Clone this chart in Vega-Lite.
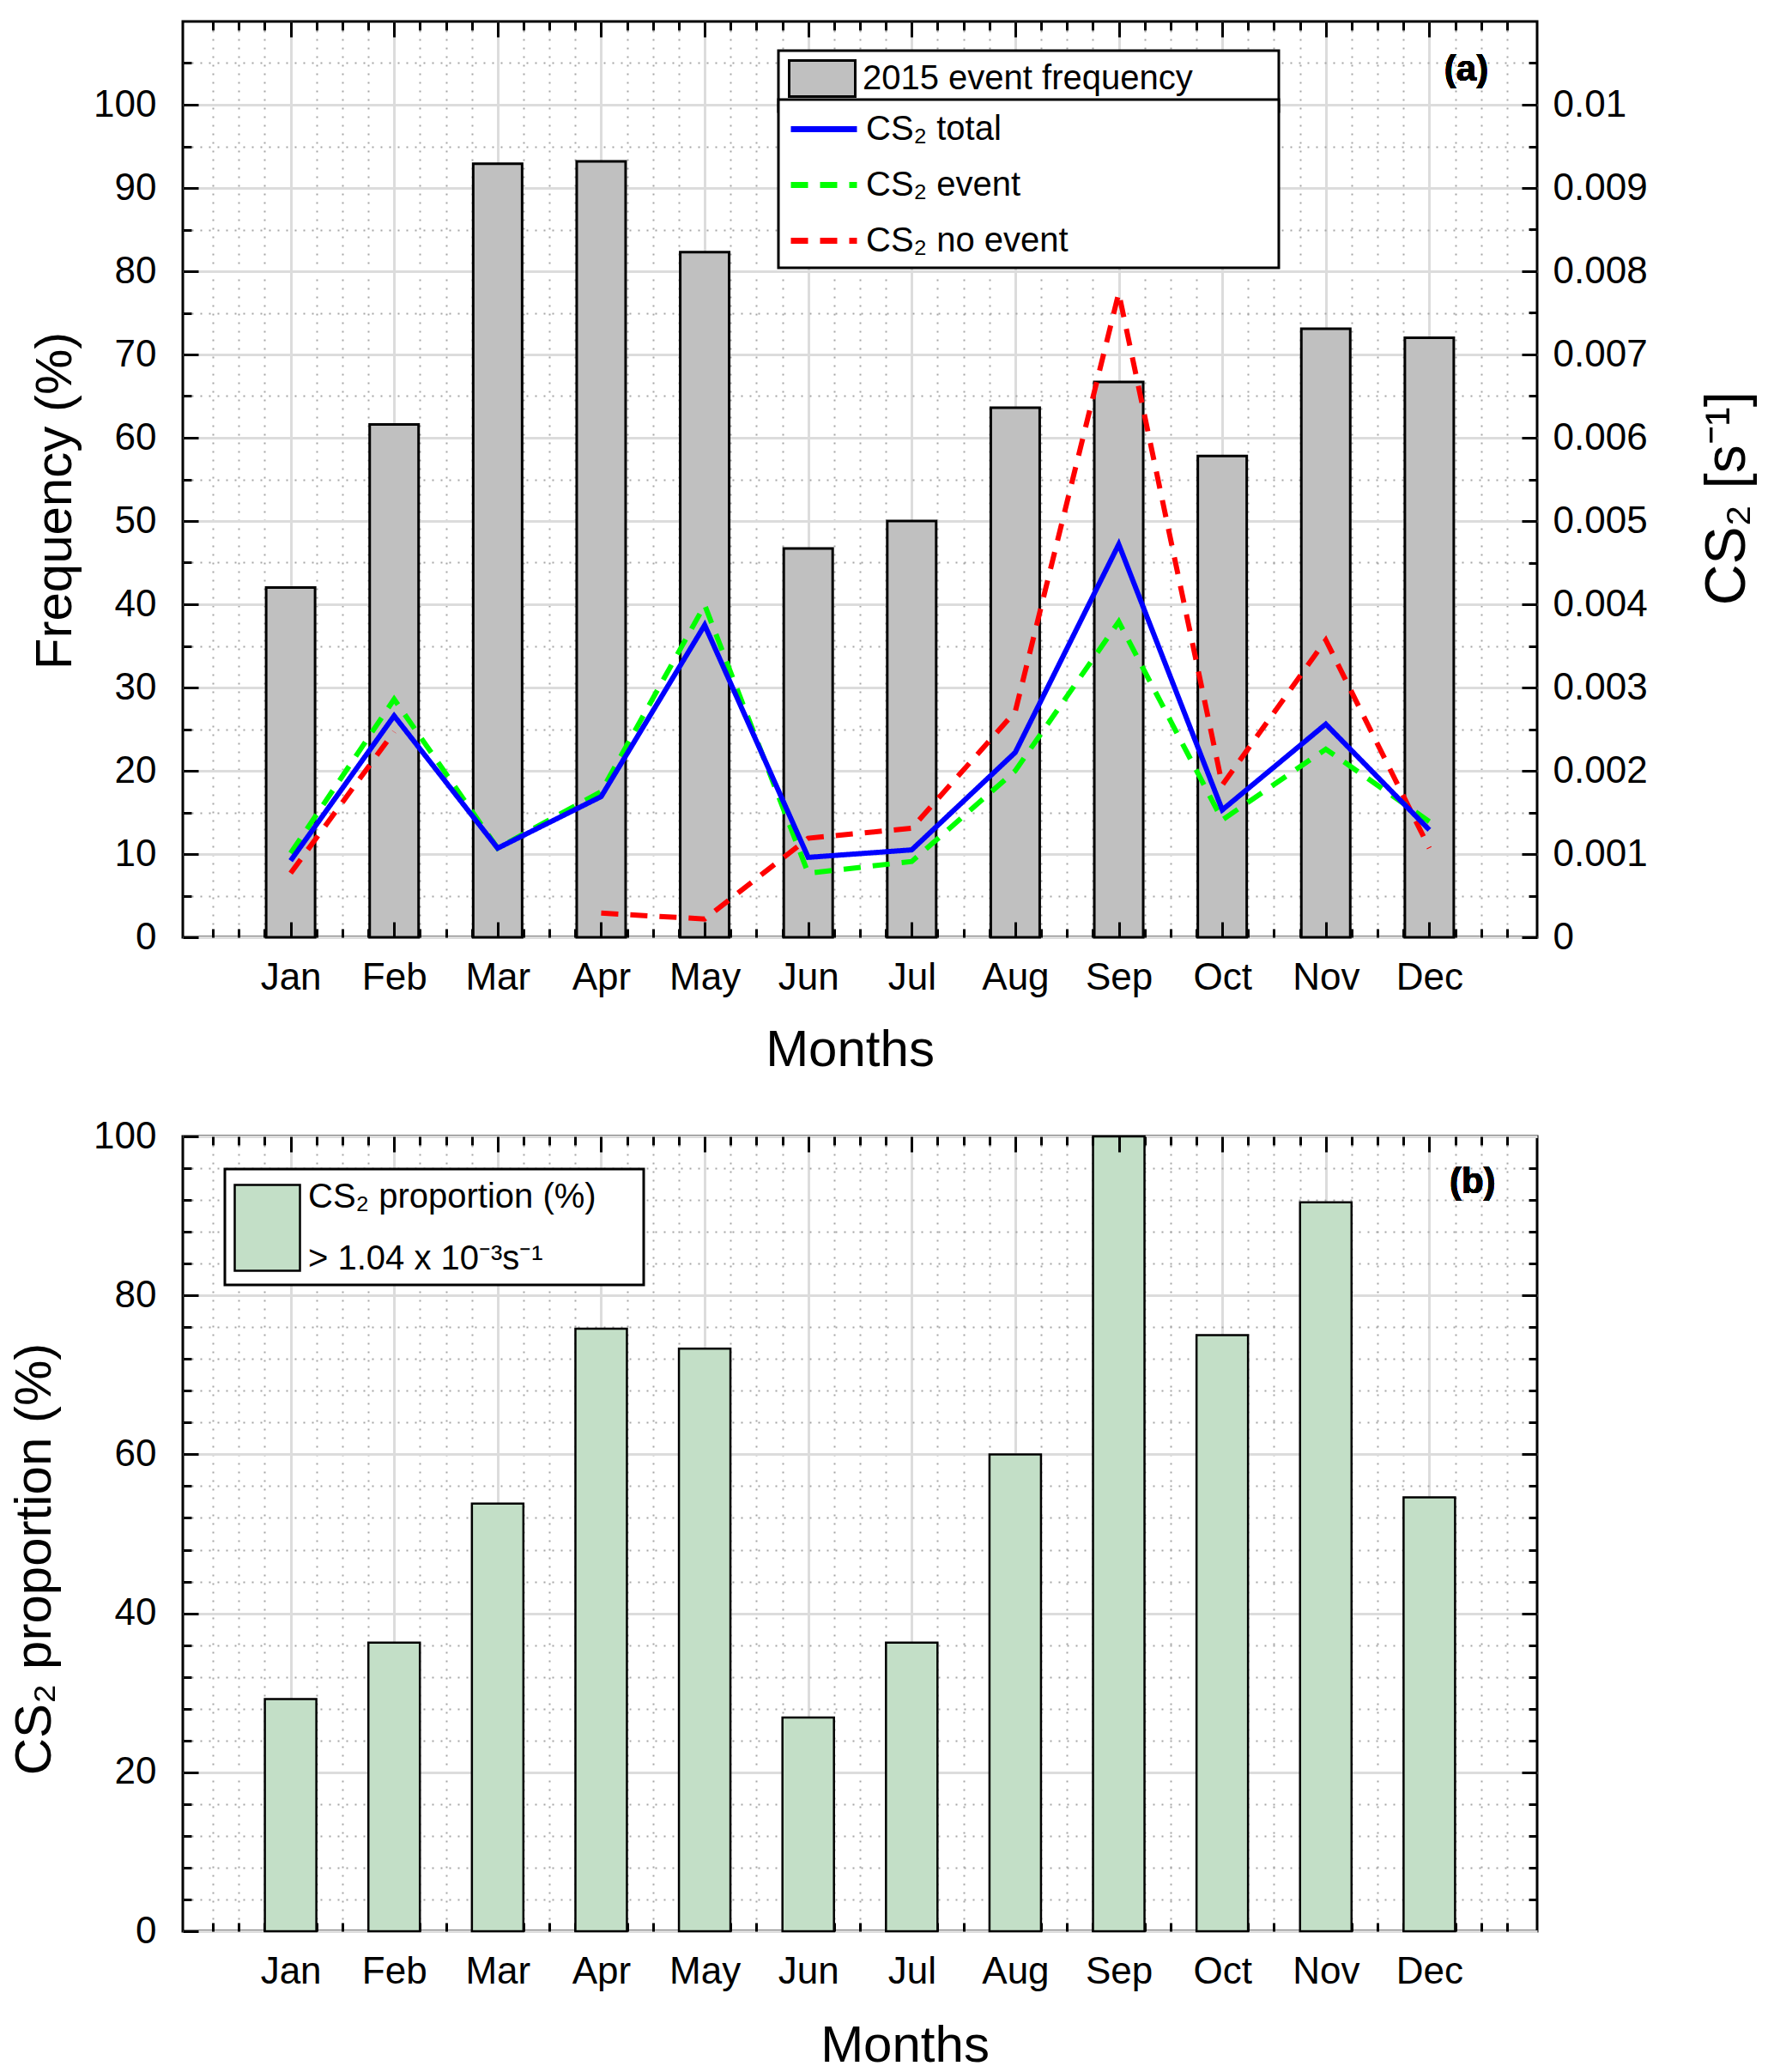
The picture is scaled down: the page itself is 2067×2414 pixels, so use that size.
{
  "$schema": "https://vega.github.io/schema/vega-lite/v6.json",
  "background": "white",
  "padding": {"left": 9, "top": 22, "right": 5, "bottom": 5},
  "spacing": 45,
  "datasets": {
    "top": [
      {"m": 1, "month": "Jan", "freq": 42.0, "total": 0.00092, "event": 0.00101, "noevent": 0.00077},
      {"m": 2, "month": "Feb", "freq": 61.6, "total": 0.00266, "event": 0.00286, "noevent": 0.00247},
      {"m": 3, "month": "Mar", "freq": 92.9, "total": 0.00107, "event": 0.00107, "noevent": null},
      {"m": 4, "month": "Apr", "freq": 93.2, "total": 0.00169, "event": 0.00175, "noevent": 0.00029},
      {"m": 5, "month": "May", "freq": 82.3, "total": 0.00375, "event": 0.00399, "noevent": 0.00022},
      {"m": 6, "month": "Jun", "freq": 46.7, "total": 0.00096, "event": 0.00077, "noevent": 0.00119},
      {"m": 7, "month": "Jul", "freq": 50.0, "total": 0.00105, "event": 0.00091, "noevent": 0.00131},
      {"m": 8, "month": "Aug", "freq": 63.6, "total": 0.00222, "event": 0.00200, "noevent": 0.00271},
      {"m": 9, "month": "Sep", "freq": 66.7, "total": 0.00472, "event": 0.00379, "noevent": 0.00774},
      {"m": 10, "month": "Oct", "freq": 57.8, "total": 0.00153, "event": 0.00141, "noevent": 0.00183},
      {"m": 11, "month": "Nov", "freq": 73.1, "total": 0.00256, "event": 0.00226, "noevent": 0.00357},
      {"m": 12, "month": "Dec", "freq": 72.0, "total": 0.00129, "event": 0.00139, "noevent": 0.00107}
    ],
    "bottom": [
      {"m": 1, "month": "Jan", "prop": 29.2},
      {"m": 2, "month": "Feb", "prop": 36.3},
      {"m": 3, "month": "Mar", "prop": 53.8},
      {"m": 4, "month": "Apr", "prop": 75.8},
      {"m": 5, "month": "May", "prop": 73.3},
      {"m": 6, "month": "Jun", "prop": 26.9},
      {"m": 7, "month": "Jul", "prop": 36.3},
      {"m": 8, "month": "Aug", "prop": 60.0},
      {"m": 9, "month": "Sep", "prop": 100},
      {"m": 10, "month": "Oct", "prop": 75.0},
      {"m": 11, "month": "Nov", "prop": 91.7},
      {"m": 12, "month": "Dec", "prop": 54.6}
    ]
  },
  "resolve": {
    "scale": {"color": "independent", "fill": "independent", "strokeDash": "independent"},
    "legend": {"color": "independent", "fill": "independent", "strokeDash": "independent"}
  },
  "vconcat": [
    {
      "width": 1578,
      "height": 1067,
      "data": {"name": "top"},
      "resolve": {"scale": {"y": "independent"}, "axis": {"x": "independent", "y": "independent"}},
      "layer": [
        {
          "mark": {"type": "bar", "orient": "vertical", "size": 57, "stroke": "black", "strokeWidth": 3},
          "encoding": {
            "x": {
              "field": "m", "type": "quantitative",
              "scale": {"domain": [0, 13], "nice": false, "zero": false},
              "axis": {
                "orient": "bottom",
                "values": [0.25,0.5,0.75,1,1.25,1.5,1.75,2,2.25,2.5,2.75,3,3.25,3.5,3.75,4,4.25,4.5,4.75,5,5.25,5.5,5.75,6,6.25,6.5,6.75,7,7.25,7.5,7.75,8,8.25,8.5,8.75,9,9.25,9.5,9.75,10,10.25,10.5,10.75,11,11.25,11.5,11.75,12,12.25,12.5,12.75],
                "grid": true, "ticks": false, "labels": true,
                "labelExpr": "datum.value % 1 === 0 ? ['','Jan','Feb','Mar','Apr','May','Jun','Jul','Aug','Sep','Oct','Nov','Dec'][datum.value] : ''",
                "labelPadding": 25,
                "title": "Months", "titlePadding": 33, "titleX": 777,
                "gridDash": {"condition": {"test": "datum.value % 1 !== 0", "value": [2, 8]}, "value": []},
                "gridColor": {"condition": {"test": "datum.value % 1 !== 0", "value": "#a6a6a6"}, "value": "#dcdcdc"},
                "gridWidth": {"condition": {"test": "datum.value % 1 !== 0", "value": 2}, "value": 3},
                "zindex": 0
              }
            },
            "y": {
              "field": "freq", "type": "quantitative",
              "scale": {"domain": [0, 110], "nice": false},
              "axis": {
                "orient": "left",
                "values": [0,5,10,15,20,25,30,35,40,45,50,55,60,65,70,75,80,85,90,95,100,105],
                "grid": true, "ticks": true, "labels": true,
                "tickSize": {"condition": {"test": "datum.value % 10 === 0", "value": -18}, "value": -10},
                "labelExpr": "datum.value % 10 === 0 ? datum.label : ''",
                "labelPadding": 49,
                "title": "Frequency (%)", "titlePadding": 13, "titleY": 558,
                "gridDash": {"condition": {"test": "datum.value % 10 !== 0", "value": [2, 8]}, "value": []},
                "gridColor": {"condition": {"test": "datum.value % 10 !== 0", "value": "#a6a6a6"}, "value": "#dcdcdc"},
                "gridWidth": {"condition": {"test": "datum.value % 10 !== 0", "value": 2}, "value": 3},
                "zindex": 0
              }
            },
            "fill": {
              "datum": "2015 event frequency", "type": "nominal",
              "scale": {"domain": ["2015 event frequency"], "range": ["#c0c0c0"]},
              "legend": {
                "orient": "none", "legendX": 694, "legendY": 34,
                "title": null,
                "padding": 11, "strokeColor": "black", "fillColor": "white",
                "symbolType": "M-1,-1.05H2.85V1.05H-1Z", "symbolSize": 1600,
                "symbolStrokeColor": "black", "symbolStrokeWidth": 3, "symbolOpacity": 1,
                "labelOffset": 44, "labelFontSize": 40, "labelLimit": 2000, "labelColor": "black",
                "labelExpr": "datum.label + '\u00a0\u00a0\u00a0\u00a0\u00a0\u00a0\u00a0\u00a0\u200b'"
              }
            }
          }
        },
        {
          "mark": {"type": "line", "strokeWidth": 6, "strokeJoin": "miter", "invalid": "break-paths-show-domains"},
          "encoding": {
            "x": {
              "field": "m", "type": "quantitative",
              "scale": {"domain": [0, 13], "nice": false, "zero": false},
              "axis": {
                "orient": "bottom",
                "values": [0.25,0.5,0.75,1,1.25,1.5,1.75,2,2.25,2.5,2.75,3,3.25,3.5,3.75,4,4.25,4.5,4.75,5,5.25,5.5,5.75,6,6.25,6.5,6.75,7,7.25,7.5,7.75,8,8.25,8.5,8.75,9,9.25,9.5,9.75,10,10.25,10.5,10.75,11,11.25,11.5,11.75,12,12.25,12.5,12.75],
                "grid": false, "ticks": true, "labels": false, "title": null,
                "tickSize": {"condition": {"test": "datum.value % 1 === 0", "value": -18}, "value": -10},
                "zindex": 1
              }
            },
            "y": {
              "field": "noevent", "type": "quantitative",
              "scale": {"domain": [0, 0.011], "nice": false},
              "axis": {
                "orient": "right",
                "values": [0,0.0005,0.001,0.0015,0.002,0.0025,0.003,0.0035,0.004,0.0045,0.005,0.0055,0.006,0.0065,0.007,0.0075,0.008,0.0085,0.009,0.0095,0.01,0.0105],
                "grid": false, "ticks": true, "labels": true,
                "tickSize": {"condition": {"test": "round(datum.value * 10000) % 10 === 0", "value": -18}, "value": -10},
                "labelExpr": "round(datum.value * 10000) % 10 === 0 ? format(datum.value, '~g') : ''",
                "labelPadding": 36,
                "title": "CS\u2082 [s\u207b\u00b9]", "titleAngle": 270, "titleBaseline": "top",
                "titlePadding": 61, "titleY": 555, "titleFontSize": 66,
                "zindex": 1
              }
            },
            "color": {
              "datum": "CS\u2082 no event", "type": "nominal",
              "scale": {"domain": ["CS\u2082 total", "CS\u2082 event", "CS\u2082 no event"], "range": ["#0000ff", "#00ff00", "#ff0000"]},
              "legend": {
                "orient": "none", "legendX": 694, "legendY": 91,
                "title": null, "direction": "vertical",
                "padding": 11, "strokeColor": "black", "fillColor": "white",
                "symbolType": "M-1,0H2.85", "symbolSize": 1600, "symbolStrokeWidth": 7, "symbolOpacity": 1,
                "labelOffset": 44, "rowPadding": 21,
                "labelFontSize": 40, "labelLimit": 2000, "labelColor": "black",
                "labelExpr": "datum.label === 'CS\u2082 no event' ? datum.label + '\u00a0\u00a0\u00a0\u00a0\u00a0\u00a0\u00a0\u00a0\u00a0\u00a0\u00a0\u00a0\u00a0\u00a0\u00a0\u00a0\u00a0\u00a0\u00a0\u00a0\u00a0\u200b' : datum.label"
              }
            },
            "strokeDash": {
              "datum": "CS\u2082 no event", "type": "nominal",
              "scale": {"domain": ["CS\u2082 total", "CS\u2082 event", "CS\u2082 no event"], "range": [[1, 0], [20, 14], [20, 14]]}
            }
          }
        },
        {
          "mark": {"type": "line", "strokeWidth": 6, "strokeJoin": "miter"},
          "encoding": {
            "x": {
              "field": "m", "type": "quantitative",
              "scale": {"domain": [0, 13], "nice": false, "zero": false},
              "axis": {
                "orient": "top",
                "values": [0.25,0.5,0.75,1,1.25,1.5,1.75,2,2.25,2.5,2.75,3,3.25,3.5,3.75,4,4.25,4.5,4.75,5,5.25,5.5,5.75,6,6.25,6.5,6.75,7,7.25,7.5,7.75,8,8.25,8.5,8.75,9,9.25,9.5,9.75,10,10.25,10.5,10.75,11,11.25,11.5,11.75,12,12.25,12.5,12.75],
                "grid": false, "ticks": true, "labels": false, "title": null,
                "tickSize": {"condition": {"test": "datum.value % 1 === 0", "value": -18}, "value": -10},
                "zindex": 1
              }
            },
            "y": {
              "field": "event", "type": "quantitative",
              "scale": {"domain": [0, 0.011], "nice": false},
              "axis": null
            },
            "color": {"datum": "CS\u2082 event", "type": "nominal"},
            "strokeDash": {"datum": "CS\u2082 event", "type": "nominal"}
          }
        },
        {
          "mark": {"type": "line", "strokeWidth": 6, "strokeJoin": "miter"},
          "encoding": {
            "x": {"field": "m", "type": "quantitative", "scale": {"domain": [0, 13], "nice": false, "zero": false}, "axis": null},
            "y": {"field": "total", "type": "quantitative", "scale": {"domain": [0, 0.011], "nice": false}, "axis": null},
            "color": {"datum": "CS\u2082 total", "type": "nominal"},
            "strokeDash": {"datum": "CS\u2082 total", "type": "nominal"}
          }
        },
        {
          "mark": {"type": "text", "text": "(a)", "align": "right", "baseline": "middle", "fontSize": 42, "fontWeight": "bold", "color": "black"},
          "encoding": {
            "x": {"datum": 12.57, "type": "quantitative", "scale": {"domain": [0, 13], "nice": false, "zero": false}, "axis": null},
            "y": {"datum": 104.2, "type": "quantitative", "scale": {"domain": [0, 110], "nice": false}, "axis": null}
          }
        }
      ]
    },
    {
      "width": 1578,
      "height": 926,
      "data": {"name": "bottom"},
      "resolve": {"axis": {"x": "independent", "y": "independent"}},
      "layer": [
        {
          "mark": {"type": "bar", "orient": "vertical", "size": 60, "stroke": "black", "strokeWidth": 2.5},
          "encoding": {
            "x": {
              "field": "m", "type": "quantitative",
              "scale": {"domain": [0, 13], "nice": false, "zero": false},
              "axis": {
                "orient": "bottom",
                "values": [0.25,0.5,0.75,1,1.25,1.5,1.75,2,2.25,2.5,2.75,3,3.25,3.5,3.75,4,4.25,4.5,4.75,5,5.25,5.5,5.75,6,6.25,6.5,6.75,7,7.25,7.5,7.75,8,8.25,8.5,8.75,9,9.25,9.5,9.75,10,10.25,10.5,10.75,11,11.25,11.5,11.75,12,12.25,12.5,12.75],
                "grid": true, "ticks": true, "labels": true,
                "tickSize": {"condition": {"test": "datum.value % 1 === 0", "value": -18}, "value": -10},
                "labelExpr": "datum.value % 1 === 0 ? ['','Jan','Feb','Mar','Apr','May','Jun','Jul','Aug','Sep','Oct','Nov','Dec'][datum.value] : ''",
                "labelPadding": 43,
                "title": "Months", "titlePadding": 27, "titleX": 841,
                "gridDash": {"condition": {"test": "datum.value % 1 !== 0", "value": [2, 8]}, "value": []},
                "gridColor": {"condition": {"test": "datum.value % 1 !== 0", "value": "#a6a6a6"}, "value": "#dcdcdc"},
                "gridWidth": {"condition": {"test": "datum.value % 1 !== 0", "value": 2}, "value": 3},
                "zindex": 0
              }
            },
            "y": {
              "field": "prop", "type": "quantitative",
              "scale": {"domain": [0, 100], "nice": false},
              "axis": {
                "orient": "left",
                "values": [0,4,8,12,16,20,24,28,32,36,40,44,48,52,56,60,64,68,72,76,80,84,88,92,96,100],
                "grid": true, "ticks": true, "labels": true,
                "tickSize": {"condition": {"test": "datum.value % 20 === 0", "value": -18}, "value": -10},
                "labelExpr": "datum.value % 20 === 0 ? datum.label : ''",
                "labelPadding": 49,
                "title": "CS\u2082 proportion (%)", "titlePadding": 37, "titleY": 492,
                "gridDash": {"condition": {"test": "datum.value % 20 !== 0", "value": [2, 8]}, "value": []},
                "gridColor": {"condition": {"test": "datum.value % 20 !== 0", "value": "#a6a6a6"}, "value": "#dcdcdc"},
                "gridWidth": {"condition": {"test": "datum.value % 20 !== 0", "value": 2}, "value": 3},
                "zindex": 0
              }
            },
            "fill": {
              "datum": "CS\u2082 proportion (%)", "type": "nominal",
              "scale": {"domain": ["CS\u2082 proportion (%)"], "range": ["#c3dfc7"]},
              "legend": {
                "orient": "none", "legendX": 49, "legendY": 38,
                "title": null,
                "padding": 10, "strokeColor": "black", "fillColor": "white",
                "symbolType": "M-1,-0.667H2.62V4.1H-1Z", "symbolSize": 1764,
                "symbolStrokeColor": "black", "symbolStrokeWidth": 2.5, "symbolOpacity": 1,
                "labelOffset": 42,
                "labelFontSize": 40, "labelLimit": 2000, "labelColor": "black",
                "labelExpr": "[datum.label + '\u00a0\u00a0\u00a0\u00a0\u200b', '> 1.04 x 10\u207b\u00b3s\u207b\u00b9']"
              }
            }
          }
        },
        {
          "mark": {"type": "text", "text": "(b)", "align": "right", "baseline": "middle", "fontSize": 42, "fontWeight": "bold", "color": "black"},
          "encoding": {
            "x": {
              "datum": 12.64, "type": "quantitative",
              "scale": {"domain": [0, 13], "nice": false, "zero": false},
              "axis": {
                "orient": "top",
                "values": [0.25,0.5,0.75,1,1.25,1.5,1.75,2,2.25,2.5,2.75,3,3.25,3.5,3.75,4,4.25,4.5,4.75,5,5.25,5.5,5.75,6,6.25,6.5,6.75,7,7.25,7.5,7.75,8,8.25,8.5,8.75,9,9.25,9.5,9.75,10,10.25,10.5,10.75,11,11.25,11.5,11.75,12,12.25,12.5,12.75],
                "grid": false, "ticks": true, "labels": false, "title": null,
                "tickSize": {"condition": {"test": "datum.value % 1 === 0", "value": -18}, "value": -10},
                "zindex": 1
              }
            },
            "y": {
              "datum": 94.3, "type": "quantitative",
              "scale": {"domain": [0, 100], "nice": false},
              "axis": {
                "orient": "right",
                "values": [4,8,12,16,20,24,28,32,36,40,44,48,52,56,60,64,68,72,76,80,84,88,92,96],
                "grid": false, "ticks": true, "labels": false, "title": null,
                "tickSize": {"condition": {"test": "datum.value % 20 === 0", "value": -18}, "value": -10},
                "zindex": 1
              }
            }
          }
        }
      ]
    }
  ],
  "config": {
    "font": "Liberation Sans",
    "view": {"stroke": "black", "strokeWidth": 3},
    "axis": {
      "domain": false,
      "tickColor": "black", "tickWidth": 3,
      "labelColor": "black", "labelFontSize": 44, "labelFont": "Liberation Sans",
      "labelOverlap": false, "labelFlush": false, "labelBound": false,
      "titleFont": "Liberation Sans", "titleFontSize": 60, "titleFontWeight": "normal", "titleColor": "black"
    },
    "legend": {"labelFont": "Liberation Sans", "labelColor": "black", "strokeWidth": 3},
    "style": {"guide-label": {"lineHeight": 72}},
    "text": {"font": "Liberation Sans"}
  }
}
